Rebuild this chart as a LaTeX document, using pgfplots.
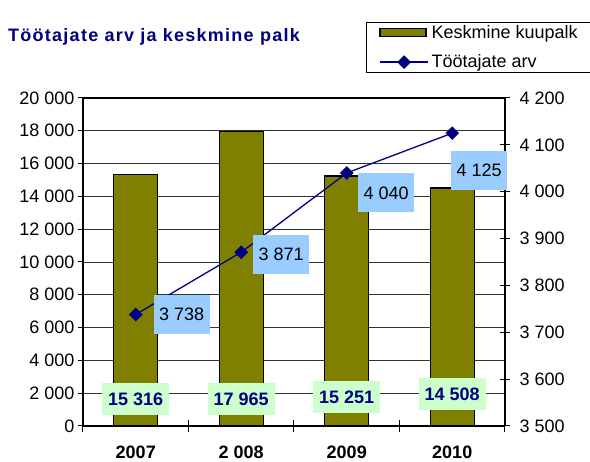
\documentclass[border=0pt]{standalone}
\usepackage{fontspec}
\setmainfont{Liberation Sans}
\usepackage{pgfplots}
\pgfplotsset{compat=1.18}
\definecolor{navy}{RGB}{0,0,128}
\definecolor{olivebar}{RGB}{128,128,0}
\definecolor{lgreen}{RGB}{204,255,204}
\definecolor{lblue}{RGB}{153,204,255}
\newcommand{\fs}{\fontsize{18}{21}\selectfont}

\pgfplotsset{
  base/.style={
    at={(83pt,36pt)}, anchor=south west,
    scale only axis, width=422pt, height=328pt,
    xmin=-0.5, xmax=3.5,
    /pgf/number format/assume math mode=true,
    /pgf/number format/1000 sep={~},
    scaled y ticks=false,
    tick label style={font=\fs},
    axis line style={line width=1.6pt},
    every tick/.style={black, line width=1pt},
  },
  linelegend/.style={legend image code/.code={\draw[mark repeat=2, mark phase=2, ##1]
    plot coordinates {(0pt,0pt) (24pt,0pt) (48pt,0pt)};}},
  barlegend/.style={legend image code/.code={
    \draw[fill=olivebar, draw=black, line width=1.3pt] (0pt,-4pt) rectangle (46pt,4pt);}},
}

\begin{document}
\begin{tikzpicture}[x=1pt,y=1pt]
\path[use as bounding box] (0,0) rectangle (590,462);
\node[anchor=west, inner sep=0pt, text=navy,
  font=\fontsize{18}{21}\selectfont\bfseries\addfontfeature{LetterSpace=7}]
  at (8,425) {Töötajate arv ja keskmine palk};

% left axis: bars
\begin{axis}[base,
  ymin=0, ymax=20000, ytick distance=2000,
  axis x line*=bottom, axis y line*=left,
  ymajorgrids, grid style={black!80, line width=0.9pt},
  extra y ticks={20000}, extra y tick labels={},
  extra y tick style={grid style={black, line width=1.6pt}},
  ytick align=outside, major tick length=5pt,
  xtick={0,1,2,3}, xticklabels={2007,2 008,2009,2010},
  xticklabel style={font=\fs\bfseries, yshift=-14pt},
  major x tick style={draw=none},
  minor xtick={-0.5,0.5,1.5,2.5,3.5}, minor tick length=12pt, xtick align=center,
]
\addplot[ybar, bar width=44pt, fill=olivebar, draw=black, line width=1.3pt]
  coordinates {(0,15316) (1,17965) (2,15251) (3,14508)};
\addplot[draw=none, mark=none, nodes near coords, point meta=explicit symbolic,
  nodes near coords style={anchor=center, fill=lgreen, text=navy,
    font=\fs\bfseries, minimum width=67pt, minimum height=32pt, inner sep=0pt}]
  table[col sep=comma, meta=lab] {
x,y,lab
0,1616,15 316
1,1616,17 965
2,1738,15 251
3,1921,14 508
};
\end{axis}

% right axis: line
\begin{axis}[base,
  ymin=3500, ymax=4200, ytick distance=100,
  axis y line*=right, axis x line=none,
  ytick align=center, major tick length=10pt,
  yticklabel style={xshift=6pt},
  legend style={at={(rel axis cs:0.6706,1.232)}, anchor=north west,
    draw=black, line width=0.8pt, font=\fs, inner xsep=13pt, inner ysep=1pt,
    row sep=11pt, nodes={inner xsep=3pt}},
  legend cell align=left,
]
\addlegendimage{barlegend}
\addlegendentry{Keskmine kuupalk}
\addplot[navy, line width=1.3pt, mark=square*, mark size=4.2pt,
  mark options={rotate=45, solid}, linelegend,
  visualization depends on={\thisrow{dx} \as \dx},
  visualization depends on={\thisrow{dy} \as \dy},
  nodes near coords, point meta=explicit symbolic,
  nodes near coords style={anchor=center, xshift=\dx pt, yshift=\dy pt,
    fill=lblue, text=black, font=\fs, minimum width=56pt, minimum height=39pt,
    inner sep=0pt}]
  table[col sep=comma, meta=lab] {
x,y,dx,dy,lab
0,3738,46,0,3 738
1,3871,40,-2,3 871
2,4040,39.5,-20,4 040
3,4125,27,-37,4 125
};
\addlegendentry{Töötajate arv}
\end{axis}
\end{tikzpicture}
\end{document}
